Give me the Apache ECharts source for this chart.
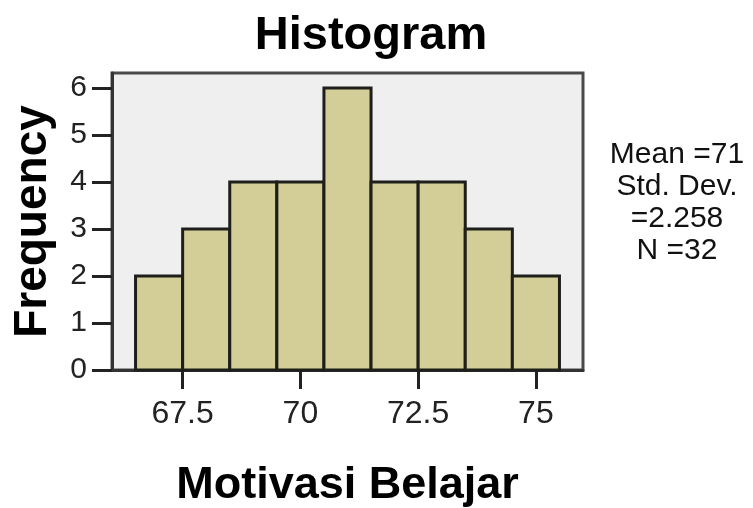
<!DOCTYPE html>
<html>
<head>
<meta charset="utf-8">
<script src="https://cdn.jsdelivr.net/npm/echarts@6/dist/echarts.min.js"></script>
<style>html,body{margin:0;padding:0;background:#fff;}#c{width:753px;height:508px;}</style>
</head>
<body>
<div id="c"></div>
<script>
// Histogram data
const binStarts = [66.5, 67.5, 68.5, 69.5, 70.5, 71.5, 72.5, 73.5, 74.5];
const binEnds   = [67.5, 68.5, 69.5, 70.5, 71.5, 72.5, 73.5, 74.5, 75.5];
const counts    = [2, 3, 4, 4, 6, 4, 4, 3, 2];
const xTicks = [67.5, 70, 72.5, 75];
const yTicks = [0, 1, 2, 3, 4, 5, 6];
const statsLines = ['Mean =71', 'Std. Dev.', '=2.258', 'N =32'];
const chartTitle = 'Histogram';
const xName = 'Motivasi Belajar';
const yName = 'Frequency';

const FONT = 'Liberation Sans, Arial, sans-serif';
const data = binStarts.map((s, i) => [s, binEnds[i], counts[i]]);

const chart = echarts.init(document.getElementById('c'), null, {renderer: 'canvas'});
chart.setOption({
  animation: false,
  backgroundColor: '#ffffff',
  title: {
    text: chartTitle, left: 366, top: 8, textAlign: 'center',
    textStyle: {fontFamily: FONT, fontSize: 47, fontWeight: 'bold', color: '#000'}
  },
  grid: {
    left: 112, right: 170, top: 73, bottom: 138,
    outerBoundsMode: 'none', containLabel: false,
    show: true, backgroundColor: '#efefef', borderColor: '#4a4a4a', borderWidth: 3
  },
  xAxis: {
    type: 'value', min: 66, max: 76,
    name: xName, nameLocation: 'middle', nameGap: 93,
    nameTextStyle: {fontFamily: FONT, fontSize: 45, fontWeight: 'bold', color: '#000'},
    axisLine: {show: true, lineStyle: {color: '#333', width: 3}},
    axisTick: {show: true, inside: false, length: 19, customValues: xTicks, lineStyle: {color: '#222', width: 3}},
    axisLabel: {customValues: xTicks, margin: 28, fontFamily: FONT, fontSize: 32, color: '#222',
      formatter: v => String(v)},
    splitLine: {show: false}
  },
  yAxis: {
    type: 'value', min: 0, max: 6.32,
    name: yName, nameLocation: 'middle', nameGap: 56, nameRotate: 90,
    nameTextStyle: {fontFamily: FONT, fontSize: 46, fontWeight: 'bold', color: '#000'},
    axisLine: {show: true, lineStyle: {color: '#333', width: 3}},
    axisTick: {show: true, inside: false, length: 20, customValues: yTicks, lineStyle: {color: '#222', width: 3}},
    axisLabel: {customValues: yTicks, margin: 25, fontFamily: FONT, fontSize: 30, color: '#222'},
    splitLine: {show: false}
  },
  series: [{
    type: 'custom',
    data: data,
    encode: {x: [0, 1], y: 2},
    renderItem: function (params, api) {
      const p0 = api.coord([api.value(0), api.value(2)]);
      const p1 = api.coord([api.value(1), 0]);
      return {
        type: 'rect',
        shape: {x: p0[0], y: p0[1], width: p1[0] - p0[0], height: p1[1] - p0[1]},
        style: {fill: '#d3ce97', stroke: '#1e1e1a', lineWidth: 3}
      };
    }
  }],
  graphic: [{
    type: 'text', left: 677 - 80, top: 139,
    style: {
      text: statsLines.join('\n'), x: 80, textAlign: 'center',
      fontFamily: FONT, fontSize: 30, lineHeight: 32, fill: '#111', width: 160
    }
  }]
});
</script>
</body>
</html>
